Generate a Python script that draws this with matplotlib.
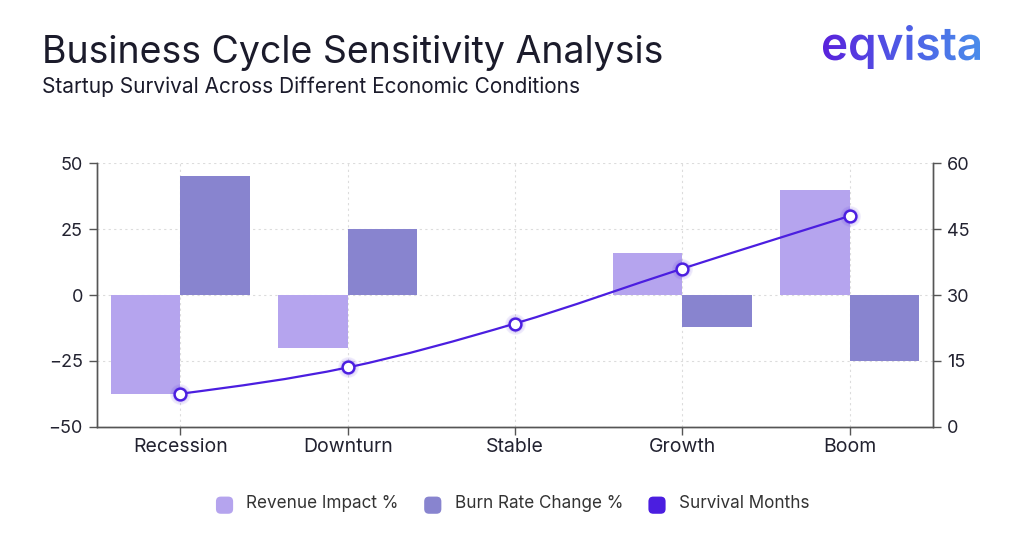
import numpy as np
import matplotlib
matplotlib.use("Agg")
import matplotlib.pyplot as plt
from matplotlib.patches import Patch, FancyBboxPatch, PathPatch
from matplotlib.legend_handler import HandlerPatch
from matplotlib.path import Path
from matplotlib.textpath import TextPath
from matplotlib.font_manager import FontProperties
from matplotlib.colors import LinearSegmentedColormap

# ---------------- data ----------------
categories = ["Recession", "Downturn", "Stable", "Growth", "Boom"]
revenue_impact = [-37.5, -20, 0, 16, 40]
burn_rate_change = [45, 25, 0, -12, -25]
survival_months = [7.5, 13.5, 23.5, 36, 48]
left_ticks = [-50, -25, 0, 25, 50]
right_ticks = [0, 15, 30, 45, 60]

title = "Business Cycle Sensitivity Analysis"
subtitle = "Startup Survival Across Different Economic Conditions"
series_names = ["Revenue Impact %", "Burn Rate Change %", "Survival Months"]

# ---------------- style ----------------
FONT = "Inter"
plt.rcParams["font.family"] = [FONT, "DejaVu Sans"]
c_rev = "#B5A4EE"
c_burn = "#8884CF"
c_line = "#4B1EE0"
c_text = "#222230"
c_spine = "#555555"
c_grid = "#dcdcdc"

fig = plt.figure(figsize=(10.24, 5.35), dpi=100)
fig.patch.set_facecolor("white")

ax = fig.add_axes([96.7 / 1024, 1 - 426.7 / 535, (933.3 - 96.7) / 1024, (426.7 - 163.3) / 535])
ax2 = ax.twinx()

x = np.arange(len(categories))
bw = 0.415
ax.bar(x - bw / 2, revenue_impact, width=bw, color=c_rev, zorder=3, label=series_names[0])
ax.bar(x + bw / 2, burn_rate_change, width=bw, color=c_burn, zorder=3, label=series_names[1])

ax.set_xlim(-0.5, len(categories) - 0.5)
ax.set_ylim(-50, 50)
ax.set_yticks(left_ticks)
ax.set_yticklabels([("\u2212" + str(abs(v))) if v < 0 else str(v) for v in left_ticks])
ax.set_xticks(x)
ax.set_xticklabels(categories)
ax2.set_ylim(0, 60)
ax2.set_yticks(right_ticks)

ax.grid(True, linestyle=(0, (2, 3)), color=c_grid, linewidth=0.8, zorder=0)
ax.set_axisbelow(True)

for a in (ax, ax2):
    a.spines["top"].set_visible(False)
    for s in ("left", "right", "bottom"):
        a.spines[s].set_color(c_spine)
        a.spines[s].set_linewidth(1.0)
    a.tick_params(axis="both", colors=c_spine, labelcolor=c_text, labelsize=13, length=6, width=1.0, pad=4)
ax.tick_params(axis="x", pad=2, labelsize=14)

# ---------------- smooth line (monotone cubic bezier through data) ----------------
ys = np.array(survival_months, dtype=float)
xs = x.astype(float)
n = len(ys)
sl = np.diff(ys) / np.diff(xs)
t = np.zeros(n)
for i in range(1, n - 1):
    s0, s1 = sl[i - 1], sl[i]
    p = (s0 + s1) / 2
    t[i] = (np.sign(s0) + np.sign(s1)) * min(abs(s0), abs(s1), 0.5 * abs(p))
t[0] = (3 * sl[0] - t[1]) / 2
t[-1] = (3 * sl[-1] - t[-2]) / 2
verts = [(xs[0], ys[0])]
codes = [Path.MOVETO]
for i in range(n - 1):
    dx = xs[i + 1] - xs[i]
    verts += [(xs[i] + dx / 3, ys[i] + dx * t[i] / 3),
              (xs[i + 1] - dx / 3, ys[i + 1] - dx * t[i + 1] / 3),
              (xs[i + 1], ys[i + 1])]
    codes += [Path.CURVE4] * 3
ax2.add_patch(PathPatch(Path(verts, codes), facecolor="none", edgecolor=c_line, linewidth=1.6, zorder=4))
# subtle glow
ax2.plot(xs, ys, linestyle="none", marker="o", markersize=14, color=c_line, alpha=0.06, zorder=5)
ax2.plot(xs, ys, linestyle="none", marker="o", markersize=11.5, color=c_line, alpha=0.08, zorder=5)
ax2.plot(xs, ys, linestyle="none", marker="o", markersize=8.5, markerfacecolor="white",
         markeredgecolor=c_line, markeredgewidth=1.8, zorder=6)

# ---------------- titles ----------------
fig.text(42 / 1024, 1 - 63 / 535, title, fontsize=27, color="#1b1b2b", va="baseline", ha="left")
fig.text(42 / 1024, 1 - 93 / 535, subtitle, fontsize=15, color="#1b1b2b", va="baseline", ha="left")

# ---------------- logo with gradient ----------------
fp = FontProperties(family=FONT, weight="semibold")
tp = TextPath((0, 0), "eqvista", size=1, prop=fp)
ext = tp.get_extents()
lw_px = 157.0
lh_px = lw_px * ext.height / ext.width
lax = fig.add_axes([823 / 1024, 1 - (25 + lh_px) / 535, lw_px / 1024, lh_px / 535])
lax.set_xlim(ext.x0, ext.x1)
lax.set_ylim(ext.y0, ext.y1)
lax.axis("off")
grad = np.linspace(0, 1, 256).reshape(1, -1)
cmap = LinearSegmentedColormap.from_list("eq", ["#5A22DC", "#4F5BE6", "#4A8CEB"])
im = lax.imshow(grad, cmap=cmap, extent=[ext.x0, ext.x1, ext.y0, ext.y1], aspect="auto")
pp = PathPatch(tp, transform=lax.transData, facecolor="none", edgecolor="none")
lax.add_patch(pp)
im.set_clip_path(pp)

# ---------------- legend ----------------
class RoundHandler(HandlerPatch):
    def create_artists(self, legend, orig_handle, xdescent, ydescent, width, height, fontsize, trans):
        side = min(width, height)
        p = FancyBboxPatch((-xdescent + (width - side) / 2, -ydescent + (height - side) / 2 - 2), side, side,
                           boxstyle="round,pad=0,rounding_size=3.5",
                           facecolor=orig_handle.get_facecolor(), edgecolor="none", transform=trans)
        return [p]

handles = [Patch(facecolor=c_rev), Patch(facecolor=c_burn), Patch(facecolor=c_line)]
leg = fig.legend(handles, series_names, loc="center", bbox_to_anchor=(0.5, 1 - 503 / 535), ncol=3,
                 frameon=False, fontsize=12.3, handlelength=1.17, handleheight=1.17,
                 handletextpad=0.7, columnspacing=1.4,
                 handler_map={Patch: RoundHandler()})
for txt in leg.get_texts():
    txt.set_color("#333333")

fig.savefig("out.png", dpi=100, facecolor="white")
